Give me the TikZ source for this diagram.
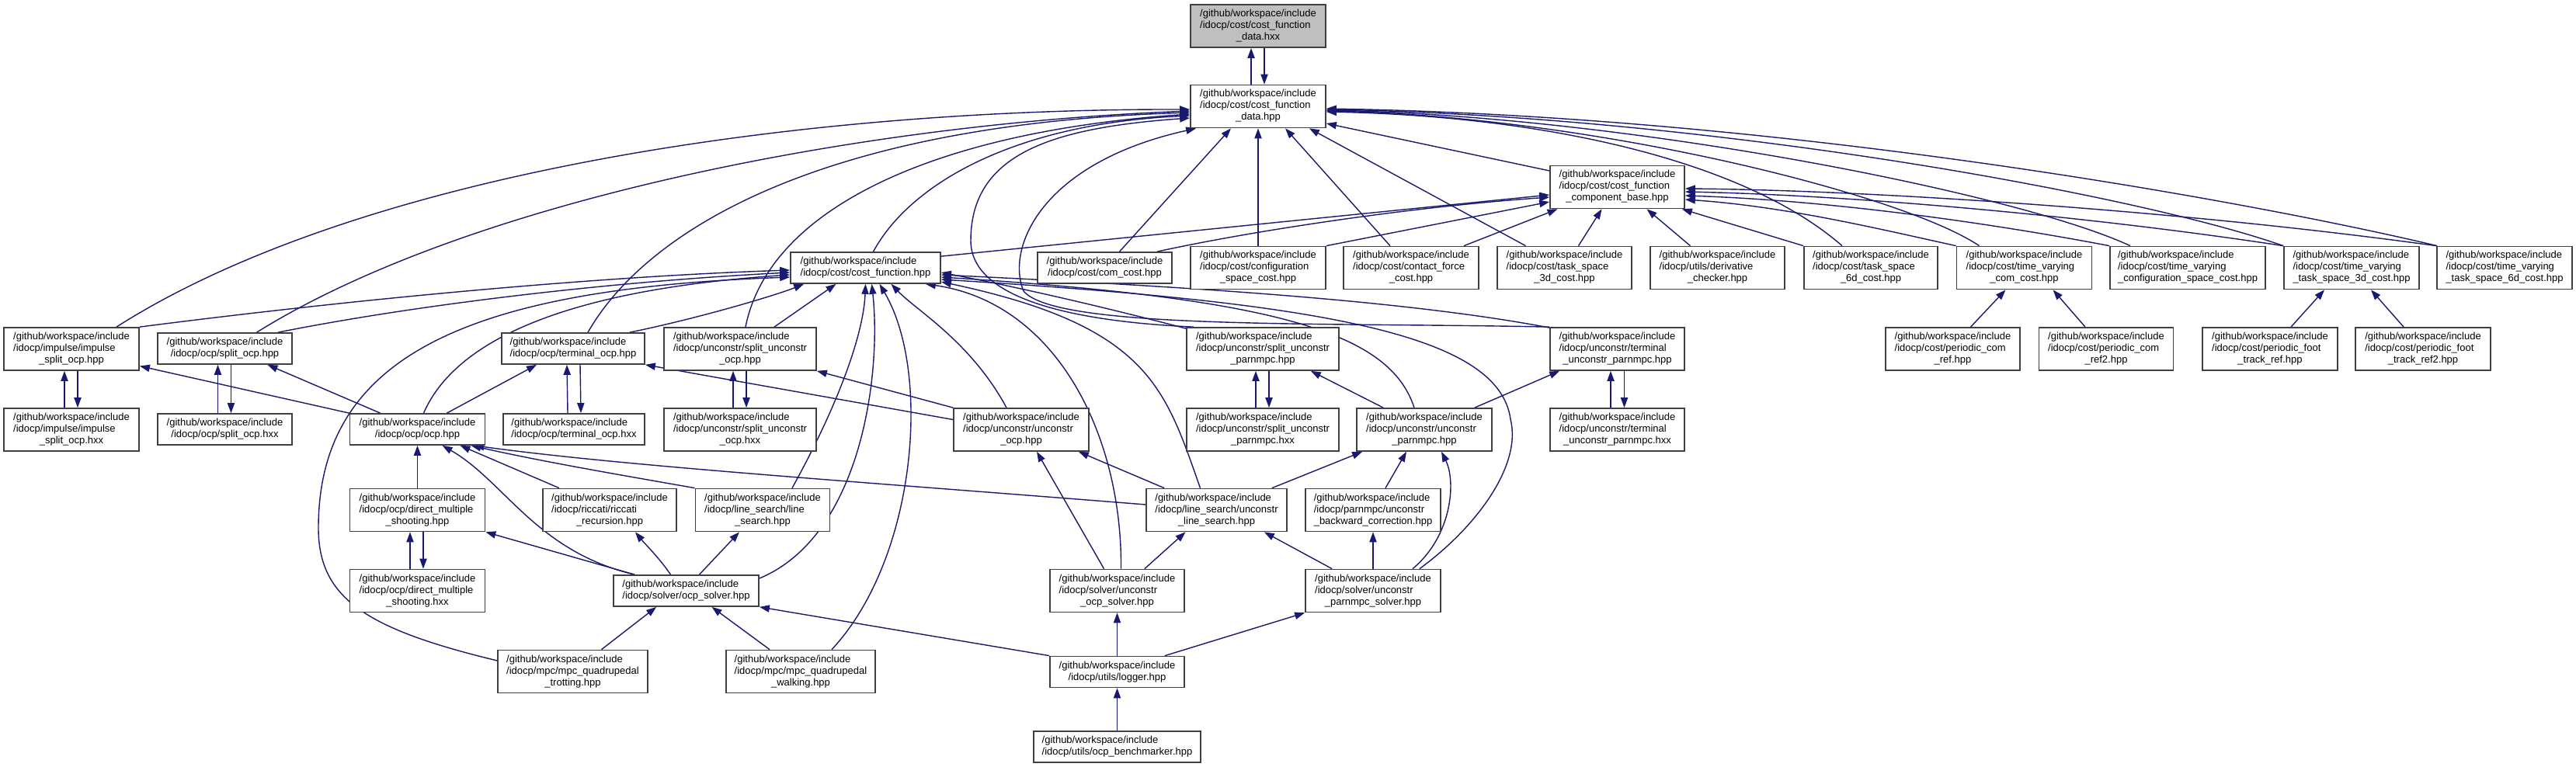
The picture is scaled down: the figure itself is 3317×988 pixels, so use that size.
\documentclass[tikz,border=0pt]{standalone}
\usepackage{fontspec}
\setmainfont{Liberation Sans}
\usetikzlibrary{arrows.meta,calc}
\definecolor{eblue}{HTML}{191970}
\definecolor{bgr}{HTML}{404040}
\definecolor{gfill}{HTML}{BFBFBF}
\newcommand\gw{/github/workspace/include}
\newcommand\nf{\fontsize{6.5pt}{7.5pt}\selectfont}
\newcommand\twoL[1]{\begin{tabular}{@{}l@{}}\gw\\\multicolumn{1}{@{}c@{}}{#1}\end{tabular}}
\newcommand\threeL[2]{\begin{tabular}{@{}l@{}}\gw\\#1\\\multicolumn{1}{@{}c@{}}{#2}\end{tabular}}
\pgfdeclarelayer{bg}
\pgfsetlayers{bg,main}
\begin{document}
\begin{tikzpicture}[x=0.5pt,y=-0.5pt,
  box/.style={draw=bgr, line width=0.85pt, fill=white, inner sep=0pt, font=\nf, text=black},
  nw/.style={minimum width=#1*0.5pt},
  nh2/.style={minimum height=20pt},
  nh3/.style={minimum height=27.5pt},
  ed/.style={draw=eblue, line width=0.7pt, -{Triangle[length=6.5pt,width=4.6pt]}, fill=none}]
\useasboundingbox (0,0) rectangle (3317,988);
% ---------- nodes ----------
\node[box,nw=174,nh3,fill=gfill] (A) at (1620,33.5) {\threeL{/idocp/cost/cost\_function}{\_data.hxx}};
\node[box,nw=174,nh3] (B) at (1620,137) {\threeL{/idocp/cost/cost\_function}{\_data.hpp}};
\node[box,nw=173,nh3] (C) at (2082.5,241) {\threeL{/idocp/cost/cost\_function}{\_component\_base.hpp}};
\node[box,nw=193,nh2] (CF) at (1114.5,345) {\twoL{/idocp/cost/cost\_function.hpp}};
\node[box,nw=173,nh2] (com) at (1422.5,345) {\twoL{/idocp/cost/com\_cost.hpp}};
\node[box,nw=174,nh3] (cfg) at (1620,345) {\threeL{/idocp/cost/configuration}{\_space\_cost.hpp}};
\node[box,nw=174,nh3] (cf) at (1817,345) {\threeL{/idocp/cost/contact\_force}{\_cost.hpp}};
\node[box,nw=173,nh3] (t3) at (2014.5,345) {\threeL{/idocp/cost/task\_space}{\_3d\_cost.hpp}};
\node[box,nw=173,nh3] (dc) at (2211.5,345) {\threeL{/idocp/utils/derivative}{\_checker.hpp}};
\node[box,nw=172,nh3] (t6) at (2409,345) {\threeL{/idocp/cost/task\_space}{\_6d\_cost.hpp}};
\node[box,nw=174,nh3] (tvcom) at (2606.5,345) {\threeL{/idocp/cost/time\_varying}{\_com\_cost.hpp}};
\node[box,nw=200,nh3] (tvcfg) at (2817,345) {\threeL{/idocp/cost/time\_varying}{\_configuration\_space\_cost.hpp}};
\node[box,nw=174,nh3] (tv3) at (3028,345) {\threeL{/idocp/cost/time\_varying}{\_task\_space\_3d\_cost.hpp}};
\node[box,nw=174,nh3] (tv6) at (3225,345) {\threeL{/idocp/cost/time\_varying}{\_task\_space\_6d\_cost.hpp}};
% row 2
\node[box,nw=174,nh3] (isoh) at (92,449.5) {\threeL{/idocp/impulse/impulse}{\_split\_ocp.hpp}};
\node[box,nw=173,nh2] (soh) at (289.5,449) {\twoL{/idocp/ocp/split\_ocp.hpp}};
\node[box,nw=184,nh2] (toh) at (738,449) {\twoL{/idocp/ocp/terminal\_ocp.hpp}};
\node[box,nw=196,nh3] (suoh) at (953,449.5) {\threeL{/idocp/unconstr/split\_unconstr}{\_ocp.hpp}};
\node[box,nw=196,nh3] (supn) at (1626,449.5) {\threeL{/idocp/unconstr/split\_unconstr}{\_parnmpc.hpp}};
\node[box,nw=173,nh3] (tupn) at (2082.5,449.5) {\threeL{/idocp/unconstr/terminal}{\_unconstr\_parnmpc.hpp}};
\node[box,nw=173,nh3] (pcr) at (2514.5,449.5) {\threeL{/idocp/cost/periodic\_com}{\_ref.hpp}};
\node[box,nw=173,nh3] (pcr2) at (2712,449.5) {\threeL{/idocp/cost/periodic\_com}{\_ref2.hpp}};
\node[box,nw=174,nh3] (pft) at (2923,449.5) {\threeL{/idocp/cost/periodic\_foot}{\_track\_ref.hpp}};
\node[box,nw=174,nh3] (pft2) at (3120,449.5) {\threeL{/idocp/cost/periodic\_foot}{\_track\_ref2.hpp}};
% row 3
\node[box,nw=174,nh3] (isox) at (92,553.5) {\threeL{/idocp/impulse/impulse}{\_split\_ocp.hxx}};
\node[box,nw=173,nh2] (sox) at (289.5,553) {\twoL{/idocp/ocp/split\_ocp.hxx}};
\node[box,nw=174,nh2] (ocp) at (537.5,553) {\twoL{/idocp/ocp/ocp.hpp}};
\node[box,nw=182,nh2] (tox) at (739,553) {\twoL{/idocp/ocp/terminal\_ocp.hxx}};
\node[box,nw=196,nh3] (suox) at (953,553.5) {\threeL{/idocp/unconstr/split\_unconstr}{\_ocp.hxx}};
\node[box,nw=174,nh3] (uoh) at (1315,553.5) {\threeL{/idocp/unconstr/unconstr}{\_ocp.hpp}};
\node[box,nw=196,nh3] (supnx) at (1626,553.5) {\threeL{/idocp/unconstr/split\_unconstr}{\_parnmpc.hxx}};
\node[box,nw=174,nh3] (upn) at (1834,553.5) {\threeL{/idocp/unconstr/unconstr}{\_parnmpc.hpp}};
\node[box,nw=173,nh3] (tupnx) at (2082.5,553.5) {\threeL{/idocp/unconstr/terminal}{\_unconstr\_parnmpc.hxx}};
% row 4
\node[box,nw=174,nh3] (dmsh) at (537.5,657) {\threeL{/idocp/ocp/direct\_multiple}{\_shooting.hpp}};
\node[box,nw=172,nh3] (ric) at (785,657) {\threeL{/idocp/riccati/riccati}{\_recursion.hpp}};
\node[box,nw=173,nh3] (lsh) at (982,657) {\threeL{/idocp/line\_search/line}{\_search.hpp}};
\node[box,nw=181,nh3] (uls) at (1566.5,657) {\threeL{/idocp/line\_search/unconstr}{\_line\_search.hpp}};
\node[box,nw=174,nh3] (ubc) at (1768,657) {\threeL{/idocp/parnmpc/unconstr}{\_backward\_correction.hpp}};
% row 5
\node[box,nw=174,nh3] (dmsx) at (537.5,761) {\threeL{/idocp/ocp/direct\_multiple}{\_shooting.hxx}};
\node[box,nw=187,nh2] (ocps) at (883.5,761) {\twoL{/idocp/solver/ocp\_solver.hpp}};
\node[box,nw=173,nh3] (uos) at (1438.5,761) {\threeL{/idocp/solver/unconstr}{\_ocp\_solver.hpp}};
\node[box,nw=174,nh3] (upns) at (1768,761) {\threeL{/idocp/solver/unconstr}{\_parnmpc\_solver.hpp}};
% row 6
\node[box,nw=193,nh3] (trot) at (737.5,865) {\threeL{/idocp/mpc/mpc\_quadrupedal}{\_trotting.hpp}};
\node[box,nw=192,nh3] (walk) at (1031,865) {\threeL{/idocp/mpc/mpc\_quadrupedal}{\_walking.hpp}};
\node[box,nw=173,nh2] (logg) at (1438.5,865.5) {\twoL{/idocp/utils/logger.hpp}};
\node[box,nw=215,nh2] (bench) at (1438.5,962) {\twoL{/idocp/utils/ocp\_benchmarker.hpp}};
% ---------- edges ----------
\begin{pgfonlayer}{bg}
\fill[white] (0,0) rectangle (3317,988);
% pairs
\draw[ed] ($(B.north)+(-9,0)$) -- ($(A.south)+(-9,0)$);
\draw[ed] ($(A.south)+(8,0)$) -- ($(B.north)+(8,0)$);
\draw[ed] ($(isox.north)+(-9,0)$) -- ($(isoh.south)+(-9,0)$);
\draw[ed] ($(isoh.south)+(8,0)$) -- ($(isox.north)+(8,0)$);
\draw[ed] ($(sox.north)+(-9,0)$) -- ($(soh.south)+(-9,0)$);
\draw[ed] ($(soh.south)+(8,0)$) -- ($(sox.north)+(8,0)$);
\draw[ed] ($(tox.north)+(-8,0)$) -- ($(toh.south)+(-8,0)$);
\draw[ed] ($(toh.south)+(9,0)$) -- ($(tox.north)+(9,0)$);
\draw[ed] ($(suox.north)+(-9,0)$) -- ($(suoh.south)+(-9,0)$);
\draw[ed] ($(suoh.south)+(8,0)$) -- ($(suox.north)+(8,0)$);
\draw[ed] ($(supnx.north)+(-9,0)$) -- ($(supn.south)+(-9,0)$);
\draw[ed] ($(supn.south)+(8,0)$) -- ($(supnx.north)+(8,0)$);
\draw[ed] ($(tupnx.north)+(-8.5,0)$) -- ($(tupn.south)+(-8.5,0)$);
\draw[ed] ($(tupn.south)+(9,0)$) -- ($(tupnx.north)+(9,0)$);
\draw[ed] ($(dmsx.north)+(-9.5,0)$) -- ($(dmsh.south)+(-9.5,0)$);
\draw[ed] ($(dmsh.south)+(7.5,0)$) -- ($(dmsx.north)+(7.5,0)$);
% into B
\draw[ed] ($(isoh.north)+(58,0)$) .. controls (450,230) and (1000,140) .. ($(B.west)+(0,4)$);
\draw[ed] ($(soh.north)+(41,0)$) .. controls (600,260) and (1100,160) .. ($(B.west)+(0,6)$);
\draw[ed] ($(toh.north)+(19,0)$) .. controls (830,300) and (1050,160) .. ($(B.west)+(0,8)$);
\draw[ed] ($(suoh.north)+(7,0)$) .. controls (990,270) and (1200,170) .. ($(B.west)+(0,10)$);
\draw[ed] ($(CF.north)+(10,0)$) .. controls (1170,240) and (1300,160) .. ($(B.west)+(0,12)$);
\draw[ed] ($(supn.north west)+(10,0)$) .. controls (1400,415) and (1250,390) .. (1250,310) .. controls (1250,200) and (1350,165) .. ($(B.west)+(0,15)$);
\draw[ed] (tupn.north west) .. controls (1700,415) and (1360,425) .. (1318,375) .. controls (1295,320) and (1340,210) .. ($(B.south west)+(8,0)$);
\draw[ed] ($(com.north)+(19,0)$) -- ($(B.south)+(-35,0)$);
\draw[ed] (cfg.north) -- (B.south);
\draw[ed] ($(cf.north)+(-27,0)$) -- ($(B.south)+(35,0)$);
\draw[ed] ($(t3.north)+(-50,0)$) -- ($(B.south east)+(-22,0)$);
\draw[ed] ($(C.west)+(0,-21)$) -- ($(B.east)+(0,22)$);
\draw[ed] ($(t6.north)+(-37,0)$) .. controls (2250,210) and (2000,150) .. ($(B.east)+(0,7)$);
\draw[ed] ($(tv6.north west)+(1,0)$) .. controls (2900,260) and (2300,150) .. ($(B.east)+(0,3)$);
\draw[ed] (tv3.north west) .. controls (2750,250) and (2200,150) .. ($(B.east)+(0,4)$);
\draw[ed] ($(tvcfg.north)+(-74,0)$) .. controls (2600,250) and (2100,150) .. ($(B.east)+(0,5)$);
\draw[ed] ($(tvcom.north)+(-58,0)$) .. controls (2450,250) and (2050,150) .. ($(B.east)+(0,6)$);
% into C
\draw[ed] ($(CF.north east)+(0,6)$) -- ($(C.west)+(0,10)$);
\draw[ed] ($(com.north east)+(-20,0)$) .. controls (1600,300) and (1800,268) .. ($(C.west)+(0,13)$);
\draw[ed] (cfg.north east) -- ($(C.west)+(0,19)$);
\draw[ed] ($(cf.north)+(68,0)$) -- ($(C.south)+(-77,0)$);
\draw[ed] ($(t3.north)+(18,0)$) -- ($(C.south)+(-20,0)$);
\draw[ed] ($(dc.north)+(-35,0)$) -- ($(C.south)+(38,0)$);
\draw[ed] (t6.north west) -- ($(C.south east)+(-4,0)$);
\draw[ed] (tv6.north west) .. controls (2800,270) and (2400,245) .. ($(C.east)+(0,2)$);
\draw[ed] (tv3.north west) .. controls (2700,280) and (2400,252) .. ($(C.east)+(0,6)$);
\draw[ed] (tvcfg.north west) .. controls (2550,285) and (2350,258) .. ($(C.east)+(0,11)$);
\draw[ed] (tvcom.north west) .. controls (2420,295) and (2300,266) .. ($(C.east)+(0,16)$);
% periodic
\draw[ed] ($(pcr.north)+(23,0)$) -- ($(tvcom.south)+(-24,0)$);
\draw[ed] ($(pcr2.north)+(-27,0)$) -- ($(tvcom.south)+(37,0)$);
\draw[ed] ($(pft.north)+(27,0)$) -- ($(tv3.south)+(-35,0)$);
\draw[ed] ($(pft2.north)+(-25,0)$) -- ($(tv3.south)+(25,0)$);
% into CF
\draw[ed] (isoh.north east) .. controls (500,380) and (800,355) .. ($(CF.west)+(0,3)$);
\draw[ed] ($(soh.north east)+(-19,0)$) .. controls (550,390) and (800,362) .. ($(CF.west)+(0,6)$);
\draw[ed] ($(ocp.north)+(8,0)$) .. controls (590,430) and (750,372) .. ($(CF.west)+(0,9)$);
\draw[ed] ($(trot.west)+(0,-14)$) .. controls (470,810) and (410,770) .. (410,680) .. controls (410,460) and (600,372) .. ($(CF.west)+(0,12)$);
\draw[ed] ($(toh.north east)+(-20,0)$) .. controls (900,410) and (1000,380) .. ($(CF.south west)+(18,0)$);
\draw[ed] ($(suoh.north)+(44,0)$) -- ($(CF.south)+(-38,0)$);
\draw[ed] ($(lsh.north)+(38,0)$) .. controls (1080,520) and (1112,430) .. (CF.south);
\draw[ed] ($(ocps.east)+(0,-16)$) .. controls (1110,690) and (1135,480) .. ($(CF.south)+(8,0)$);
\draw[ed] ($(walk.north)+(40,0)$) .. controls (1180,720) and (1200,480) .. ($(CF.south)+(18,0)$);
\draw[ed] ($(uoh.north)+(-19,0)$) .. controls (1250,440) and (1180,400) .. ($(CF.south)+(33,0)$);
\draw[ed] ($(uos.north)+(5,0)$) .. controls (1445,560) and (1360,390) .. ($(CF.south east)+(-20,0)$);
\draw[ed] ($(supn.north west)+(0,2)$) .. controls (1400,390) and (1300,368) .. ($(CF.east)+(0,6)$);
\draw[ed] ($(tupn.north west)+(0,1)$) .. controls (1800,385) and (1500,368) .. ($(CF.east)+(0,9)$);
\draw[ed] ($(upn.north)+(-13,0)$) .. controls (1790,430) and (1650,385) .. ($(CF.east)+(0,12)$);
\draw[ed] ($(upns.north east)+(-28,0)$) .. controls (1900,680) and (1960,600) .. (1945,540) .. controls (1930,430) and (1700,390) .. ($(CF.east)+(0,15)$);
\draw[ed] ($(uls.north)+(-21,0)$) .. controls (1500,500) and (1480,420) .. ($(CF.east)+(0,18)$);
% ocp.hpp
\draw[ed] (ocp.north west) -- ($(isoh.east)+(0,22)$);
\draw[ed] ($(ocp.north west)+(40,0)$) -- ($(soh.south)+(55,0)$);
\draw[ed] ($(ocp.north east)+(-50,0)$) -- ($(toh.south)+(-47,0)$);
\draw[ed] (dmsh.north) -- (ocp.south);
\draw[ed] ($(ocps.north west)+(28,0)$) .. controls (690,710) and (650,620) .. ($(ocp.south)+(32,0)$);
\draw[ed] ($(ric.north)+(-65,0)$) -- ($(ocp.south)+(55,0)$);
\draw[ed] ($(uls.west)+(0,-7)$) .. controls (1100,620) and (800,600) .. ($(ocp.south east)+(-15,0)$);
\draw[ed] (lsh.north west) .. controls (800,612) and (700,595) .. ($(ocp.south east)+(-19,0)$);
% unconstr ocp
\draw[ed] (uoh.north west) -- (suoh.south east);
\draw[ed] ($(uoh.west)+(0,-13)$) -- (toh.south east);
\draw[ed] ($(uos.north)+(-17,0)$) -- ($(uoh.south)+(20,0)$);
\draw[ed] ($(uls.north west)+(24,0)$) -- ($(uoh.south east)+(-14,0)$);
% unconstr line search
\draw[ed] ($(uos.north east)+(-52,0)$) -- ($(uls.south)+(-40,0)$);
\draw[ed] ($(upns.north west)+(35,0)$) -- ($(uls.south east)+(-30,0)$);
\draw[ed] ($(uls.north east)+(-20,0)$) -- ($(upn.south west)+(8,0)$);
% unconstr parnmpc
\draw[ed] ($(upn.north west)+(35,0)$) -- ($(supn.south east)+(-37,0)$);
\draw[ed] ($(upn.north east)+(-23,0)$) -- ($(tupn.south west)+(13,0)$);
\draw[ed] ($(ubc.north)+(16,0)$) -- ($(upn.south)+(-23,0)$);
\draw[ed] ($(upns.north)+(51,0)$) .. controls (1870,690) and (1875,620) .. ($(upn.south)+(22,0)$);
\draw[ed] (upns.north) -- (ubc.south);
% ocp solver
\draw[ed] ($(ocps.north west)+(28,0)$) -- (dmsh.south east);
\draw[ed] ($(ocps.north)+(-20,0)$) .. controls (850,720) and (830,700) .. ($(ric.south)+(33,0)$);
\draw[ed] ($(ocps.north)+(17,0)$) -- ($(lsh.south)+(-30,0)$);
\draw[ed] ($(trot.north)+(37,0)$) -- ($(ocps.south west)+(56,0)$);
\draw[ed] ($(walk.north)+(-40,0)$) -- ($(ocps.south)+(33,0)$);
\draw[ed] (logg.north west) -- (ocps.south east);
\draw[ed] (logg.north) -- (uos.south);
\draw[ed] ($(logg.north east)+(-26,0)$) -- (upns.south west);
\draw[ed] (bench.north) -- (logg.south);
\end{pgfonlayer}
\end{tikzpicture}
\end{document}
